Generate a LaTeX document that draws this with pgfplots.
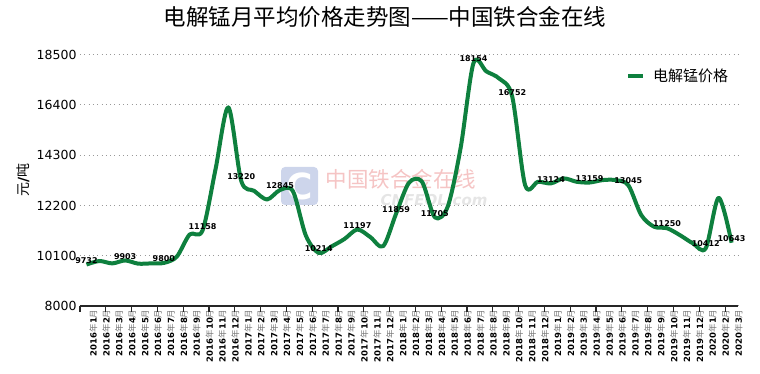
\documentclass[border=0pt]{standalone}
\usepackage{fontspec}
\setmainfont{DejaVu Sans}
\newfontfamily\cjk{Noto Sans CJK SC}
\usepackage{pgfplots}
\pgfplotsset{compat=1.18}
\definecolor{mn}{RGB}{14,128,62}
\definecolor{wmpink}{RGB}{245,196,196}
\definecolor{wmblue}{RGB}{205,213,235}
\newcommand{\ym}[2]{\textbf{#1}{\cjk\color{black!55}年}\textbf{#2}{\cjk\color{black!55}月}}
\begin{document}
\begin{tikzpicture}
\path[use as bounding box] (0pt,0pt) rectangle (760pt,374pt);
% watermark
\fill[wmblue, rounded corners=4pt] (281pt,169pt) rectangle (318pt,207pt);
\node[white, font=\bfseries\fontsize{36}{36}\selectfont] at (299.5pt,188pt) {C};
\node[wmpink, font=\cjk\fontsize{21.5}{22}\selectfont] at (401pt,195pt) {中国铁合金在线};
\node[black!10, font=\bfseries\itshape\fontsize{15}{15}\selectfont] at (434pt,174pt) {CNFEOL.com};
% title
\node[font=\cjk\fontsize{22.5}{24}\selectfont] at (385pt,357pt) {电解锰月平均价格走势图——中国铁合金在线};
% y label
\node[rotate=90, font=\fontsize{14}{15}\selectfont] at (23pt,194pt) {{\cjk 元}\textbf{/}{\cjk 吨}};
\begin{axis}[
  at={(80pt,68pt)}, anchor=south west,
  scale only axis, width=658pt, height=251.3pt,
  xmin=-0.5, xmax=50.5, ymin=8000, ymax=18500,
  axis x line*=bottom, axis y line*=left,
  x axis line style={-, line width=1.5pt, black!85},
  y axis line style={draw=none},
  ytick={8000,10100,12200,14300,16400,18500},
  scaled y ticks=false,
  ymajorgrids,
  major grid style={black!40, line width=1pt, dash pattern=on 1pt off 3.3pt},
  ytick style={draw=none},
  /pgf/number format/assume math mode=true,
  /pgf/number format/1000 sep={},
  yticklabel style={font=\fontsize{12.5}{14}\selectfont},
  xtick={0,...,50},
  major tick length=0pt,
  xticklabel style={rotate=90, anchor=east, yshift=-7pt, font=\fontsize{8.5}{9}\selectfont},
  xticklabels={
    {\ym{2016}{1}},{\ym{2016}{2}},{\ym{2016}{3}},{\ym{2016}{4}},{\ym{2016}{5}},{\ym{2016}{6}},
    {\ym{2016}{7}},{\ym{2016}{8}},{\ym{2016}{9}},{\ym{2016}{10}},{\ym{2016}{11}},{\ym{2016}{12}},
    {\ym{2017}{1}},{\ym{2017}{2}},{\ym{2017}{3}},{\ym{2017}{4}},{\ym{2017}{5}},{\ym{2017}{6}},
    {\ym{2017}{7}},{\ym{2017}{8}},{\ym{2017}{9}},{\ym{2017}{10}},{\ym{2017}{11}},{\ym{2017}{12}},
    {\ym{2018}{1}},{\ym{2018}{2}},{\ym{2018}{3}},{\ym{2018}{4}},{\ym{2018}{5}},{\ym{2018}{6}},
    {\ym{2018}{7}},{\ym{2018}{8}},{\ym{2018}{9}},{\ym{2018}{10}},{\ym{2018}{11}},{\ym{2018}{12}},
    {\ym{2019}{1}},{\ym{2019}{2}},{\ym{2019}{3}},{\ym{2019}{4}},{\ym{2019}{5}},{\ym{2019}{6}},
    {\ym{2019}{7}},{\ym{2019}{8}},{\ym{2019}{9}},{\ym{2019}{10}},{\ym{2019}{11}},{\ym{2019}{12}},
    {\ym{2020}{1}},{\ym{2020}{2}},{\ym{2020}{3}}},
  extra x ticks={-0.5,1.5,...,49.5},
  extra x tick labels={},
  extra x tick style={major tick length=6pt, tick align=outside, tick style={black!85, line width=1.2pt}},
  legend style={at={(0.8298,0.9152)}, anchor=west, draw=none, fill=none, inner sep=0pt,
    font=\cjk\fontsize{15}{16}\selectfont, /tikz/every odd column/.append style={column sep=6pt}},
  legend image code/.code={\draw[#1, line width=4pt] (0pt,0pt) -- (15pt,0pt);},
]
\addplot[mn, line width=4pt, smooth, tension=0.5, line join=round, mark=none] coordinates {
(0,9732) (1,9880) (2,9780) (3,9903) (4,9770) (5,9780) (6,9800) (7,10060) (8,10990) (9,11158)
(10,13700) (11,16300) (12,13220) (13,12810) (14,12450) (15,12845) (16,12800) (17,10950) (18,10214) (19,10490)
(20,10800) (21,11197) (22,10880) (23,10500) (24,11859) (25,13150) (26,13200) (27,11705) (28,12150) (29,14600)
(30,18154) (31,17800) (32,17500) (33,16752) (34,13050) (35,13190) (36,13124) (37,13330) (38,13190) (39,13159)
(40,13260) (41,13260) (42,13045) (43,11800) (44,11310) (45,11250) (46,10960) (47,10620) (48,10412) (49,12520)
(50,10643)
};
\addlegendentry{电解锰价格}
\addplot[draw=none, mark=none, forget plot, nodes near coords, point meta=explicit symbolic,
  nodes near coords style={font=\bfseries\fontsize{8}{9}\selectfont, anchor=south, inner sep=1pt}]
coordinates {
(0,9732)[9732] (3,9903)[9903] (6,9800)[9800] (9,11158)[11158] (12,13220)[13220] (15,12845)[12845]
(18,10214)[10214] (21,11197)[11197] (24,11859)[11859] (27,11705)[11705] (30,18154)[18154] (33,16752)[16752]
(36,13124)[13124] (39,13159)[13159] (42,13045)[13045] (45,11250)[11250] (48,10412)[10412] (50,10643)[10643]
};
\end{axis}
\end{tikzpicture}
\end{document}
